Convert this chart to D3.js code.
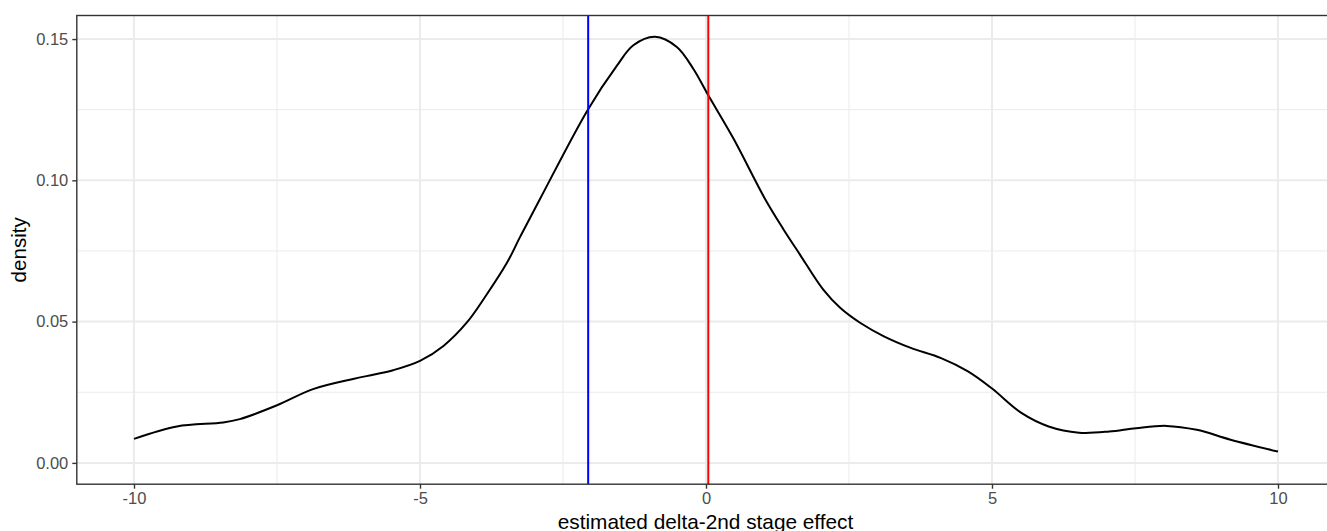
<!DOCTYPE html>
<html>
<head>
<meta charset="utf-8">
<script src="https://cdn.jsdelivr.net/npm/d3@7"></script>
<style>
	html, body { margin: 0; padding: 0; background: #ffffff; }
	svg { display: block; font-family: "Liberation Sans", Arial, sans-serif; }
</style>
</head>
<body>
<div id="chart"></div>
<script>
"use strict"

// density curve
var densityX = [-10.0, -9.25, -8.44, -8.15, -7.51, -6.87, -6.17, -5.8, -5.47, -5.0, -4.59, -4.18,
	-3.86, -3.48, -3.25, -2.9, -2.06, -1.56, -1.27, -0.89, -0.51, -0.22, 0.04, 0.48, 1.03,
	1.35, 1.64, 2.05, 2.35, 2.7, 3.11, 3.58, 4.11, 4.58, 4.99, 5.52, 5.99, 6.52, 7.05, 7.52,
	8.05, 8.58, 9.17, 10.0];
var densityY = [0.0085, 0.0129, 0.0143, 0.0155, 0.0203, 0.0261, 0.0297, 0.0313, 0.0328, 0.0361, 0.0414, 0.0497,
	0.0588, 0.0708, 0.0800, 0.0935, 0.1252, 0.1405, 0.1478, 0.1508, 0.1472, 0.1394, 0.1301, 0.1148, 0.0935,
	0.0828, 0.0738, 0.0613, 0.0548, 0.0495, 0.0448, 0.0407, 0.0371, 0.0324, 0.0265, 0.0176, 0.0129, 0.0107, 0.0111, 0.0123,
	0.0131, 0.0117, 0.0082, 0.0040];

// reference lines
var vlineValues = [-2.06, 0.04];
var vlineColors = ["#0000FF", "#FF0000"];

var xTicks = [-10, -5, 0, 5, 10];
var xMinor = [-7.5, -2.5, 2.5, 7.5];
var yTicks = [0.00, 0.05, 0.10, 0.15];
var yMinor = [0.025, 0.075, 0.125];

var xTitle = "estimated delta-2nd stage effect";
var yTitle = "density";

function DensityPlot(sParentId) {
	this.sParentId = sParentId;
	this.width = 1327;
	this.height = 531;
	this.left = 76.8;
	this.top = 15.5;
	this.bottom = 484.2;
	this.create();
}

DensityPlot.prototype.create = function() {
	var pts = densityX.map(function(x, i) { return [x, densityY[i]]; });
	var yMax = d3.max(densityY);
	var yPad = yMax * 0.05;

	// ggplot style 5% expansion; panel runs off the right edge
	this.x = d3.scaleLinear().domain([-11, 11]).range([this.left, 1335.2]);
	this.y = d3.scaleLinear().domain([-yPad, yMax + yPad]).range([this.bottom, this.top]);
	var x = this.x, y = this.y;

	this.svg = d3.select("#" + this.sParentId)
		.append("svg")
		.attr("width", this.width)
		.attr("height", this.height)
		;
	var g = this.svg.append("g");

	// minor grid
	g.selectAll("line.xminor").data(xMinor).enter()
		.append("line").attr("class", "xminor")
		.attr("x1", function(d) { return x(d); })
		.attr("x2", function(d) { return x(d); })
		.attr("y1", this.top).attr("y2", this.bottom)
		.attr("stroke", "#EBEBEB").attr("stroke-width", 1)
		;
	g.selectAll("line.yminor").data(yMinor).enter()
		.append("line").attr("class", "yminor")
		.attr("x1", this.left).attr("x2", this.width)
		.attr("y1", function(d) { return y(d); })
		.attr("y2", function(d) { return y(d); })
		.attr("stroke", "#EBEBEB").attr("stroke-width", 1)
		;
	// major grid
	g.selectAll("line.xmajor").data(xTicks).enter()
		.append("line").attr("class", "xmajor")
		.attr("x1", function(d) { return x(d); })
		.attr("x2", function(d) { return x(d); })
		.attr("y1", this.top).attr("y2", this.bottom)
		.attr("stroke", "#EBEBEB").attr("stroke-width", 2)
		;
	g.selectAll("line.ymajor").data(yTicks).enter()
		.append("line").attr("class", "ymajor")
		.attr("x1", this.left).attr("x2", this.width)
		.attr("y1", function(d) { return y(d); })
		.attr("y2", function(d) { return y(d); })
		.attr("stroke", "#EBEBEB").attr("stroke-width", 2)
		;

	var line = d3.line()
		.x(function(d) { return x(d[0]); })
		.y(function(d) { return y(d[1]); })
		.curve(d3.curveCatmullRom.alpha(0.5))
		;
	g.append("path")
		.datum(pts)
		.attr("d", line)
		.attr("fill", "none")
		.attr("stroke", "#000000")
		.attr("stroke-width", 2)
		;

	g.selectAll("line.vline").data(vlineValues).enter()
		.append("line").attr("class", "vline")
		.attr("x1", function(d) { return x(d); })
		.attr("x2", function(d) { return x(d); })
		.attr("y1", this.top).attr("y2", this.bottom)
		.attr("stroke", function(d, i) { return vlineColors[i]; })
		.attr("stroke-width", 2)
		;

	// panel border
	g.append("rect")
		.attr("x", this.left).attr("y", this.top)
		.attr("width", x.range()[1] - this.left)
		.attr("height", this.bottom - this.top)
		.attr("fill", "none")
		.attr("stroke", "#333333")
		.attr("stroke-width", 1.4)
		;

	// axes
	var xAxis = d3.axisBottom(x).tickValues(xTicks).tickSize(4.5).tickPadding(3.5)
		.tickFormat(function(d) { return d3.format("d")(d).replace("\u2212", "-"); });
	var gx = g.append("g")
		.attr("transform", "translate(0," + this.bottom + ")")
		.call(xAxis)
		;
	var yAxis = d3.axisLeft(y).tickValues(yTicks).tickSize(4.5).tickPadding(4)
		.tickFormat(d3.format(".2f"));
	var gy = g.append("g")
		.attr("transform", "translate(" + this.left + ",0)")
		.call(yAxis)
		;
	[gx, gy].forEach(function(a) {
		a.select(".domain").remove();
		a.selectAll(".tick line").attr("stroke", "#333333").attr("stroke-width", 1.4);
		a.selectAll(".tick text")
			.attr("fill", "#4D4D4D")
			.style("font-size", "16.5px")
			.style("font-family", "'Liberation Sans', Arial, sans-serif")
			;
	});

	g.append("text")
		.attr("x", (this.left + x.range()[1]) / 2 - 0.5)
		.attr("y", 528.5)
		.attr("text-anchor", "middle")
		.attr("fill", "#000000")
		.style("font-size", "20.8px")
		.text(xTitle)
		;
	g.append("text")
		.attr("transform", "translate(26," + ((this.top + this.bottom) / 2) + ") rotate(-90)")
		.attr("text-anchor", "middle")
		.attr("fill", "#000000")
		.style("font-size", "20.6px")
		.text(yTitle)
		;
}

var m_Plot = new DensityPlot("chart");
</script>
</body>
</html>
